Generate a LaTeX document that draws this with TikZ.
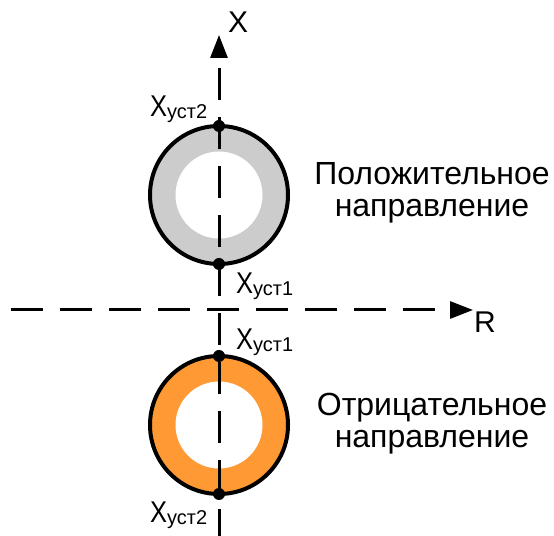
\documentclass[tikz,border=0pt]{standalone}
\usepackage{fontspec}
\setmainfont{Liberation Sans}
\usepackage{xcolor}
\usetikzlibrary{arrows.meta,positioning,calc}
\definecolor{ringgrey}{HTML}{CCCCCC}
\definecolor{ringorange}{HTML}{FF9933}
\newcommand{\xust}[1]{\scalebox{0.85}[1]{X}\raisebox{-2bp}{\fontsize{20bp}{20bp}\selectfont уст#1}}

\begin{document}
\begin{tikzpicture}[x=1bp, y=1bp,
      ring/.style={circle, draw, line width=4bp, minimum size=138bp,
                   inner sep=0pt, outer sep=0pt},
      hole/.style={circle, fill=white, minimum size=87bp, inner sep=0pt},
      dot/.style={circle, fill=black, minimum size=12bp, inner sep=0pt},
      axis/.style={line width=3bp, dash pattern=on 32bp off 17bp,
                   -{Triangle[length=23bp, width=17bp]}},
      lbl/.style={font=\fontsize{30bp}{30bp}\selectfont, inner sep=0pt, anchor=base west},
      axlbl/.style={font=\fontsize{30bp}{30bp}\selectfont, inner sep=0pt},
      capt/.style={font=\fontsize{32bp}{32bp}\selectfont, align=center,
                   inner sep=0pt, anchor=north}]
    \useasboundingbox (0,0) rectangle (554,536);
    % the two rings, drawn below the axes
    \node[ring, fill=ringgrey] (pos) at (219,341) {};
    \node[hole] (poshole) at (pos) {};
    \node[ring, fill=ringorange] (neg) at (219,111) {};
    \node[hole] (neghole) at (neg) {};
    % axes
    \coordinate (xbot) at (219,0);
    \coordinate (xtop) at (219,501);
    \coordinate (rleft) at (11,226);
    \coordinate (rright) at (473,226);
    \draw[axis, dash phase=5bp] (xbot) -- (xtop);
    \draw[axis] (rleft) -- (rright);
    \node[axlbl, above right=2bp and 9bp of xtop] (xname) {X};
    \node[axlbl, below right=2bp and 1bp of rright] (rname) {R};
    % set points where the rings cross the X axis
    \node[dot] (pos2) at (pos.north) {};
    \node[dot] (pos1) at (pos.south) {};
    \node[dot] (neg1) at (neg.north) {};
    \node[dot] (neg2) at (neg.south) {};
    \node[lbl] (pos2lbl) at ([shift={(-69,9)}]pos2) {\xust{2}};
    \node[lbl] (pos1lbl) at ([shift={(17,-30)}]pos1) {\xust{1}};
    \node[lbl] (neg1lbl) at ([shift={(17,6)}]neg1) {\xust{1}};
    \node[lbl] (neg2lbl) at ([shift={(-69,-28)}]neg2) {\xust{2}};
    % captions
    \node[capt] (poscapt) at (432,374) {Положительное\\направление};
    \node[capt] (negcapt) at (432,143) {Отрицательное\\направление};
  \end{tikzpicture}
\end{document}
